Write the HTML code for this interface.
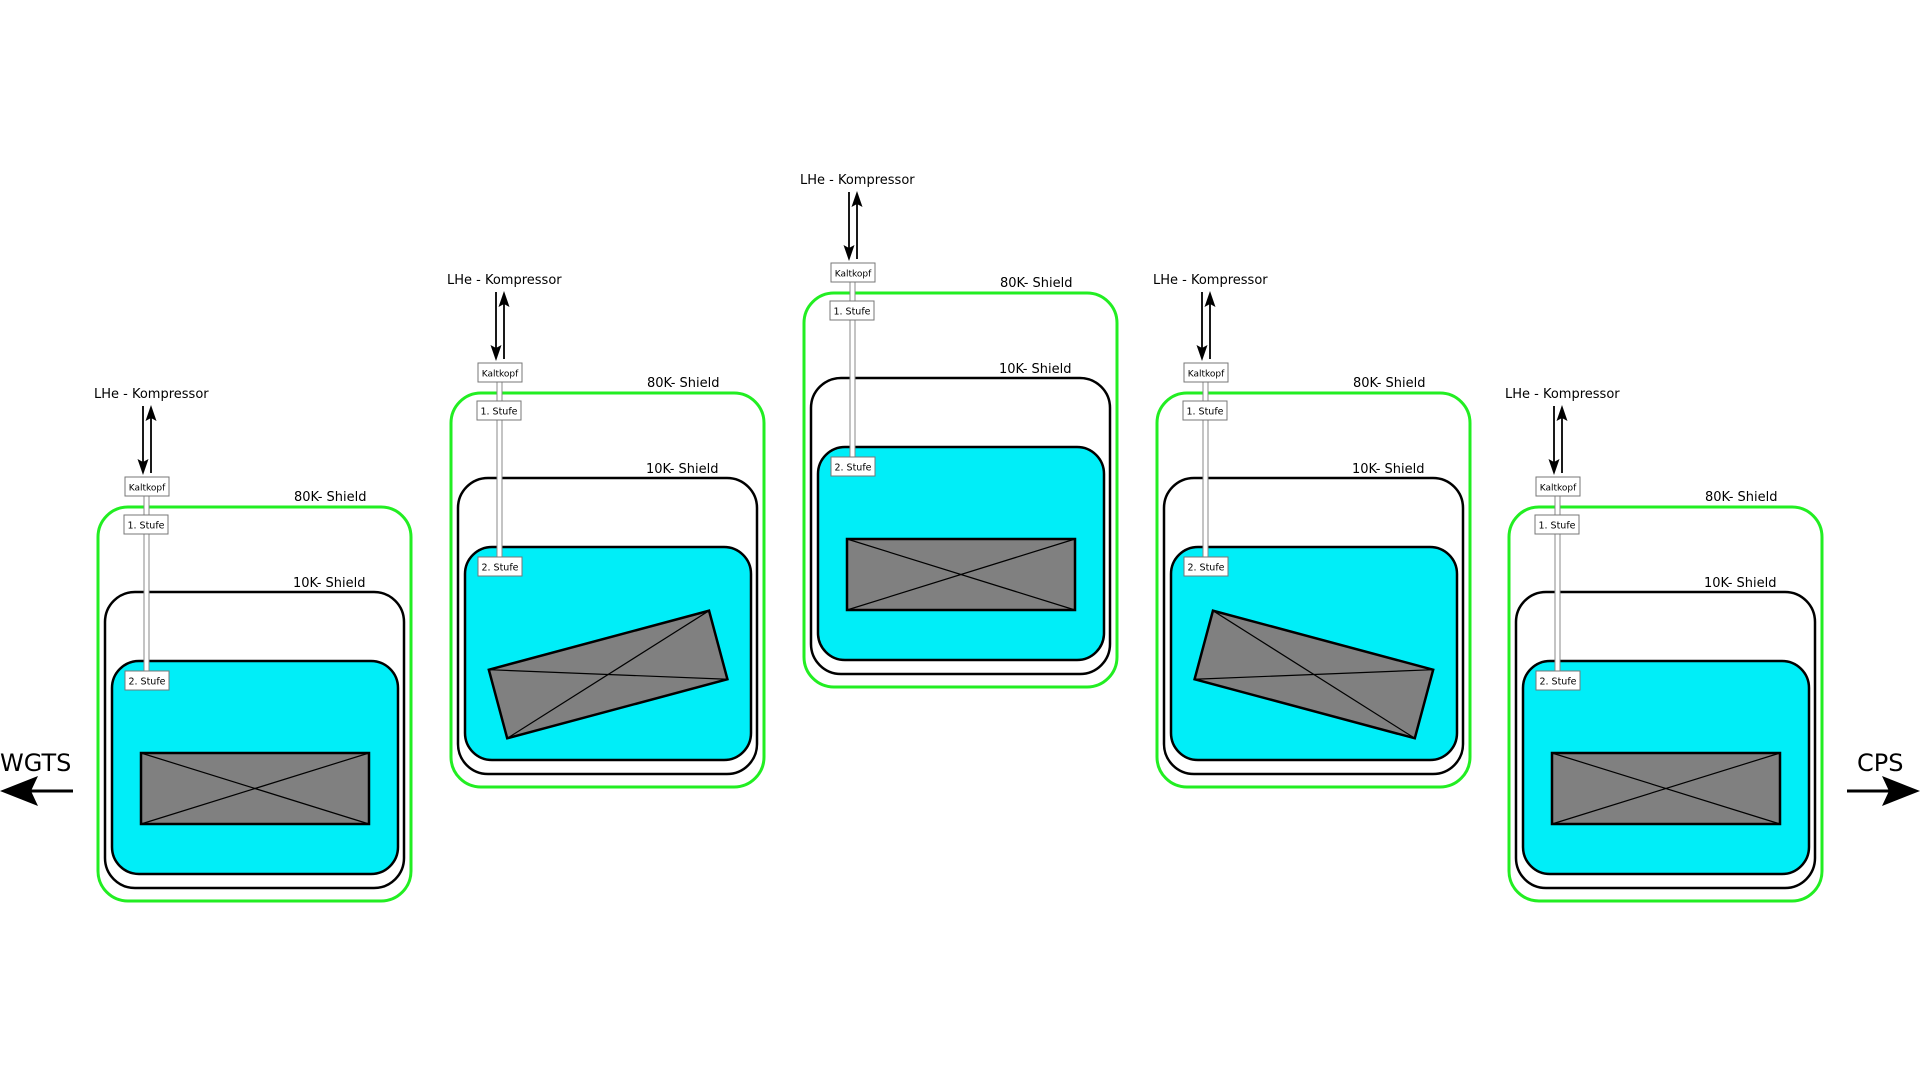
<!DOCTYPE html>
<html><head><meta charset="utf-8"><style>
html,body{margin:0;padding:0;background:#fff;width:1920px;height:1080px;overflow:hidden}
svg{display:block}
text{font-family:"DejaVu Sans","Liberation Sans",sans-serif;fill:#000}
</style></head><body>
<svg id="c" width="1920" height="1080" viewBox="0 0 1920 1080">
<g>
<text x="0" y="771" font-size="24">WGTS</text>
<line x1="73" y1="791" x2="30" y2="791" stroke="#000" stroke-width="3"/>
<path d="M0,791 L38,776 L31,791 L38,806 z" fill="#000"/>
</g>
<g>
<text x="1857" y="771" font-size="24">CPS</text>
<line x1="1847" y1="791" x2="1890" y2="791" stroke="#000" stroke-width="3"/>
<path d="M1920,791 L1882,776 L1889,791 L1882,806 z" fill="#000"/>
</g>
<g id="units"></g>
</svg>
<script>
const unitDx = [0, 353, 706, 1059, 1411];
const unitDy = [0, -114, -214, -114, 0];
const magnetAngle = [0, -15, 0, 15, 0];
const NS = 'http://www.w3.org/2000/svg';
const root = document.getElementById('units');
function mk(tag, attrs, parent) {
  const e = document.createElementNS(NS, tag);
  for (const k in attrs) e.setAttribute(k, attrs[k]);
  parent.appendChild(e);
  return e;
}
unitDx.forEach((dx, i) => {
  const g = mk('g', {transform: `translate(${dx},${unitDy[i]})`}, root);
  
  
  const green = mk('rect', {x: 98, y: 507, width: 313, height: 394, rx: 30, fill: 'none', stroke: '#22ee22', 'stroke-width': 3}, g);
  
  
  const blk = mk('rect', {x: 105, y: 592, width: 299, height: 296, rx: 30, fill: 'none', stroke: '#000', 'stroke-width': 2.5}, g);
  
  
  const cy = mk('rect', {x: 112, y: 661, width: 286, height: 213, rx: 27, fill: '#00eef8', stroke: '#000', 'stroke-width': 2.5}, g);
  
  
  const mg = mk('g', {transform: `rotate(${magnetAngle[i]},255,788)`}, g);
  
  
  mk('rect', {x: 141, y: 753, width: 228, height: 71, fill: '#808080', stroke: '#000', 'stroke-width': 2.5}, mg);
  mk('line', {x1: 141, y1: 753, x2: 369, y2: 824, stroke: '#000', 'stroke-width': 1.2}, mg);
  mk('line', {x1: 141, y1: 824, x2: 369, y2: 753, stroke: '#000', 'stroke-width': 1.2}, mg);
  const tube = mk('rect', {x: 144, y: 496, width: 5, height: 175, fill: '#fff', stroke: '#888', 'stroke-width': 1}, g);
  
  
  const boxes = [[125, 477, 44, 19, 'Kaltkopf', 'kaltkopf-box', 9], [124, 515, 44, 19, '1. Stufe', 'stage-1-box', 9.5], [125, 671, 44, 19, '2. Stufe', 'stage-2-box', 9.5]];
  boxes.forEach(b => {
    const bg = mk('g', {}, g);
    
    
    mk('rect', {x: b[0], y: b[1], width: b[2], height: b[3], fill: '#fff', stroke: '#777', 'stroke-width': 1}, bg);
    const t = mk('text', {x: b[0] + b[2] / 2, y: b[1] + 13.5, 'font-size': b[6], 'text-anchor': 'middle'}, bg);
    t.textContent = b[4];
  });
  const a1 = mk('g', {}, g);
  
  
  mk('line', {x1: 143, y1: 406, x2: 143, y2: 462, stroke: '#000', 'stroke-width': 1.8}, a1);
  mk('path', {d: 'M143,475 L137.5,459 L143,462 L148.5,459 z', fill: '#000'}, a1);
  const a2 = mk('g', {}, g);
  
  
  mk('line', {x1: 151, y1: 473, x2: 151, y2: 418, stroke: '#000', 'stroke-width': 1.8}, a2);
  mk('path', {d: 'M151,405 L145.5,421 L151,418 L156.5,421 z', fill: '#000'}, a2);
  const t1 = mk('text', {x: 94, y: 398, 'font-size': 13}, g);
  t1.textContent = 'LHe - Kompressor';
  
  
  const t2 = mk('text', {x: 294, y: 501, 'font-size': 13}, g);
  t2.textContent = '80K- Shield';
  
  
  const t3 = mk('text', {x: 293, y: 587, 'font-size': 13}, g);
  t3.textContent = '10K- Shield';
  
  
});
</script>
</body></html>
